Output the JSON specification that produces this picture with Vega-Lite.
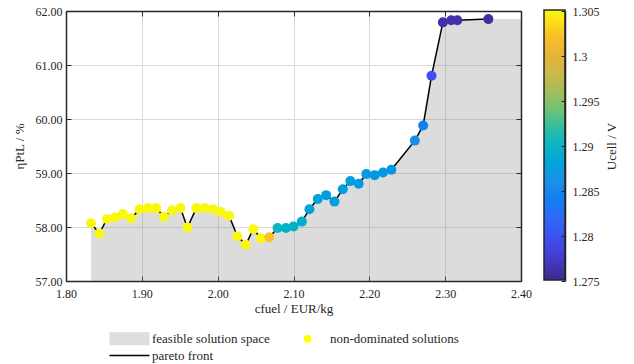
{
  "$schema": "https://vega.github.io/schema/vega-lite/v6.json",
  "width": 455,
  "height": 270,
  "autosize": {"type": "none"},
  "padding": {"left": 66, "top": 11, "right": 113, "bottom": 83},
  "background": "white",
  "config": {
    "view": {"stroke": null},
    "font": "Liberation Serif"
  },
  "datasets": {
    "pts": [
      {"c": 1.833, "eta": 58.07, "U": 1.305},
      {"c": 1.844, "eta": 57.88, "U": 1.305},
      {"c": 1.854, "eta": 58.15, "U": 1.305},
      {"c": 1.865, "eta": 58.18, "U": 1.305},
      {"c": 1.875, "eta": 58.24, "U": 1.305},
      {"c": 1.886, "eta": 58.16, "U": 1.305},
      {"c": 1.897, "eta": 58.33, "U": 1.305},
      {"c": 1.908, "eta": 58.35, "U": 1.305},
      {"c": 1.919, "eta": 58.35, "U": 1.305},
      {"c": 1.929, "eta": 58.19, "U": 1.305},
      {"c": 1.940, "eta": 58.31, "U": 1.305},
      {"c": 1.951, "eta": 58.35, "U": 1.305},
      {"c": 1.960, "eta": 57.99, "U": 1.305},
      {"c": 1.972, "eta": 58.35, "U": 1.305},
      {"c": 1.983, "eta": 58.35, "U": 1.305},
      {"c": 1.994, "eta": 58.33, "U": 1.305},
      {"c": 2.004, "eta": 58.28, "U": 1.305},
      {"c": 2.015, "eta": 58.21, "U": 1.305},
      {"c": 2.026, "eta": 57.83, "U": 1.305},
      {"c": 2.037, "eta": 57.67, "U": 1.305},
      {"c": 2.047, "eta": 57.96, "U": 1.305},
      {"c": 2.057, "eta": 57.79, "U": 1.305},
      {"c": 2.068, "eta": 57.81, "U": 1.3022},
      {"c": 2.079, "eta": 57.98, "U": 1.2900},
      {"c": 2.090, "eta": 57.98, "U": 1.2898},
      {"c": 2.100, "eta": 58.01, "U": 1.2896},
      {"c": 2.111, "eta": 58.10, "U": 1.2893},
      {"c": 2.121, "eta": 58.33, "U": 1.2880},
      {"c": 2.132, "eta": 58.52, "U": 1.2877},
      {"c": 2.143, "eta": 58.59, "U": 1.2876},
      {"c": 2.154, "eta": 58.47, "U": 1.2875},
      {"c": 2.165, "eta": 58.70, "U": 1.2874},
      {"c": 2.175, "eta": 58.85, "U": 1.2873},
      {"c": 2.186, "eta": 58.80, "U": 1.2872},
      {"c": 2.196, "eta": 58.98, "U": 1.2871},
      {"c": 2.207, "eta": 58.96, "U": 1.2870},
      {"c": 2.218, "eta": 59.01, "U": 1.2869},
      {"c": 2.229, "eta": 59.06, "U": 1.2868},
      {"c": 2.260, "eta": 59.60, "U": 1.2858},
      {"c": 2.271, "eta": 59.88, "U": 1.2845},
      {"c": 2.282, "eta": 60.80, "U": 1.2792},
      {"c": 2.297, "eta": 61.79, "U": 1.2762},
      {"c": 2.308, "eta": 61.83, "U": 1.2761},
      {"c": 2.316, "eta": 61.83, "U": 1.2760},
      {"c": 2.357, "eta": 61.85, "U": 1.2758}
    ],
    "feasible": [
      {"c": 1.833, "eta": 58.07},
      {"c": 1.844, "eta": 57.88},
      {"c": 1.854, "eta": 58.15},
      {"c": 1.865, "eta": 58.18},
      {"c": 1.875, "eta": 58.24},
      {"c": 1.886, "eta": 58.16},
      {"c": 1.897, "eta": 58.33},
      {"c": 1.908, "eta": 58.35},
      {"c": 1.919, "eta": 58.35},
      {"c": 1.929, "eta": 58.19},
      {"c": 1.940, "eta": 58.31},
      {"c": 1.951, "eta": 58.35},
      {"c": 1.960, "eta": 57.99},
      {"c": 1.972, "eta": 58.35},
      {"c": 1.983, "eta": 58.35},
      {"c": 1.994, "eta": 58.33},
      {"c": 2.004, "eta": 58.28},
      {"c": 2.015, "eta": 58.21},
      {"c": 2.026, "eta": 57.83},
      {"c": 2.037, "eta": 57.67},
      {"c": 2.047, "eta": 57.96},
      {"c": 2.057, "eta": 57.79},
      {"c": 2.068, "eta": 57.81},
      {"c": 2.079, "eta": 57.98},
      {"c": 2.090, "eta": 57.98},
      {"c": 2.100, "eta": 58.01},
      {"c": 2.111, "eta": 58.10},
      {"c": 2.121, "eta": 58.33},
      {"c": 2.132, "eta": 58.52},
      {"c": 2.143, "eta": 58.59},
      {"c": 2.154, "eta": 58.47},
      {"c": 2.165, "eta": 58.70},
      {"c": 2.175, "eta": 58.85},
      {"c": 2.186, "eta": 58.80},
      {"c": 2.196, "eta": 58.98},
      {"c": 2.207, "eta": 58.96},
      {"c": 2.218, "eta": 59.01},
      {"c": 2.229, "eta": 59.06},
      {"c": 2.260, "eta": 59.60},
      {"c": 2.271, "eta": 59.88},
      {"c": 2.282, "eta": 60.80},
      {"c": 2.299, "eta": 61.83},
      {"c": 2.308, "eta": 61.83},
      {"c": 2.316, "eta": 61.83},
      {"c": 2.357, "eta": 61.85},
      {"c": 2.400, "eta": 61.85}
    ]
  },
  "layer": [
    {
      "data": {"name": "feasible"},
      "mark": {"type": "area", "fill": "#8c8c8c", "fillOpacity": 0.3, "strokeWidth": 0},
      "encoding": {
        "x": {
          "field": "c", "type": "quantitative",
          "scale": {"domain": [1.8, 2.4], "nice": false, "zero": false},
          "axis": {
            "orient": "bottom", "values": [1.8, 1.9, 2.0, 2.1, 2.2, 2.3, 2.4], "format": ".2f",
            "title": "cfuel / EUR/kg", "grid": true, "gridColor": "#d9d9d9", "gridWidth": 1,
            "tickSize": -5, "tickColor": "#262626", "tickWidth": 1,
            "domainColor": "#262626", "domainWidth": 1.5, "labelFlush": false,
            "labelPadding": 12, "labelFontSize": 12, "labelColor": "#262626", "labelFont": "Liberation Serif",
            "titleFontSize": 13, "titleFontWeight": "normal", "titleColor": "#262626", "titleFont": "Liberation Serif", "titlePadding": 3
          }
        },
        "y": {
          "field": "eta", "type": "quantitative",
          "scale": {"domain": [57, 62], "nice": false, "zero": false},
          "axis": {
            "orient": "left", "values": [57, 58, 59, 60, 61, 62], "format": ".2f",
            "title": "ηPtL / %", "grid": true, "gridColor": "#d9d9d9", "gridWidth": 1,
            "tickSize": -5, "tickColor": "#262626", "tickWidth": 1,
            "domainColor": "#262626", "domainWidth": 1.5, "labelFlush": false,
            "labelPadding": 9, "labelFontSize": 12, "labelColor": "#262626", "labelFont": "Liberation Serif",
            "titleFontSize": 13, "titleFontWeight": "normal", "titleColor": "#262626", "titleFont": "Liberation Serif", "titlePadding": 9
          }
        },
        "y2": {"datum": 57}
      }
    },
    {
      "data": {"name": "pts"},
      "mark": {"type": "line", "color": "black", "strokeWidth": 1.5},
      "encoding": {
        "x": {
          "field": "c", "type": "quantitative",
          "scale": {"domain": [1.8, 2.4], "nice": false, "zero": false},
          "axis": {
            "orient": "top", "values": [1.8, 1.9, 2.0, 2.1, 2.2, 2.3, 2.4], "labels": false, "grid": false, "title": null,
            "tickSize": -5, "tickColor": "#262626", "tickWidth": 1,
            "domainColor": "#262626", "domainWidth": 1.5, "zindex": 1
          }
        },
        "y": {
          "field": "eta", "type": "quantitative",
          "scale": {"domain": [57, 62], "nice": false, "zero": false},
          "axis": {
            "orient": "right", "values": [57, 58, 59, 60, 61, 62], "labels": false, "grid": false, "title": null,
            "tickSize": -5, "tickColor": "#262626", "tickWidth": 1,
            "domainColor": "#262626", "domainWidth": 1.5, "zindex": 1
          }
        }
      }
    },
    {
      "data": {"name": "pts"},
      "mark": {"type": "circle", "size": 100, "opacity": 1, "strokeWidth": 0},
      "encoding": {
        "x": {"field": "c", "type": "quantitative", "scale": {"domain": [1.8, 2.4], "nice": false, "zero": false}, "axis": null},
        "y": {"field": "eta", "type": "quantitative", "scale": {"domain": [57, 62], "nice": false, "zero": false}, "axis": null},
        "fill": {
          "field": "U", "type": "quantitative",
          "scale": {
            "domain": [1.275, 1.305],
            "range": ["#3b2a8f", "#4545ee", "#2f6ef5", "#2392e6", "#0cb4c4", "#6cc27a", "#c8b850", "#f5b030", "#f9f90f"]
          },
          "legend": {
            "type": "gradient", "orient": "none", "legendX": 478, "legendY": -1, "direction": "vertical",
            "gradientLength": 270, "gradientThickness": 21,
            "gradientStrokeColor": "#262626", "gradientStrokeWidth": 1.5,
            "values": [1.275, 1.305], "labelExpr": "''",
            "title": null, "padding": 0
          }
        }
      }
    },
    {
      "data": {"values": []},
      "mark": {"type": "point", "filled": true, "opacity": 1},
      "encoding": {
        "y": {
          "field": "U", "type": "quantitative",
          "scale": {"domain": [1.275, 1.305], "nice": false, "zero": false},
          "axis": {
            "orient": "right", "offset": 44, "values": [1.275, 1.28, 1.285, 1.29, 1.295, 1.3, 1.305],
            "format": ".4~g", "labelFlush": false, "grid": false,
            "tickSize": -4, "tickColor": "#262626", "tickWidth": 1,
            "domainColor": "#262626", "domainWidth": 1.5, "zindex": 1,
            "labelPadding": 11, "labelFontSize": 12, "labelColor": "#262626", "labelFont": "Liberation Serif",
            "title": "Ucell / V", "titleAngle": -90, "titleBaseline": "top", "titleFontSize": 13,
            "titleFontWeight": "normal", "titleColor": "#262626", "titleFont": "Liberation Serif", "titlePadding": 6
          }
        },
        "color": {
          "field": "series", "type": "nominal",
          "scale": {
            "domain": ["feasible solution space", "pareto front", "non-dominated solutions"],
            "range": ["#dddddd", "#000000", "#ffff00"]
          },
          "legend": {
            "title": null, "orient": "none", "legendX": 42, "legendY": 321, "columns": 2,
            "symbolSize": 100, "symbolOffset": 15, "symbolStrokeWidth": 0, "symbolOpacity": 1,
            "labelFontSize": 13, "labelColor": "#262626", "labelFont": "Liberation Serif", "labelOffset": 16,
            "columnPadding": 16, "rowPadding": 3, "labelLimit": 300, "padding": 0
          }
        },
        "shape": {
          "field": "series", "type": "nominal",
          "scale": {
            "domain": ["feasible solution space", "pareto front", "non-dominated solutions"],
            "range": [
              "M-4,-1.3H4V1.3H-4Z",
              "M-4,-0.16H4V0.16H-4Z",
              "M0.8,0C0.8,0.442,0.442,0.8,0,0.8C-0.442,0.8,-0.8,0.442,-0.8,0C-0.8,-0.442,-0.442,-0.8,0,-0.8C0.442,-0.8,0.8,-0.442,0.8,0Z"
            ]
          },
          "legend": {
            "title": null, "orient": "none", "legendX": 42, "legendY": 321, "columns": 2,
            "symbolSize": 100, "symbolOffset": 15, "symbolStrokeWidth": 0, "symbolOpacity": 1,
            "labelFontSize": 13, "labelColor": "#262626", "labelFont": "Liberation Serif", "labelOffset": 16,
            "columnPadding": 16, "rowPadding": 3, "labelLimit": 300, "padding": 0
          }
        }
      }
    }
  ],
  "resolve": {
    "axis": {"x": "independent", "y": "independent"},
    "scale": {"y": "independent"}
  }
}
